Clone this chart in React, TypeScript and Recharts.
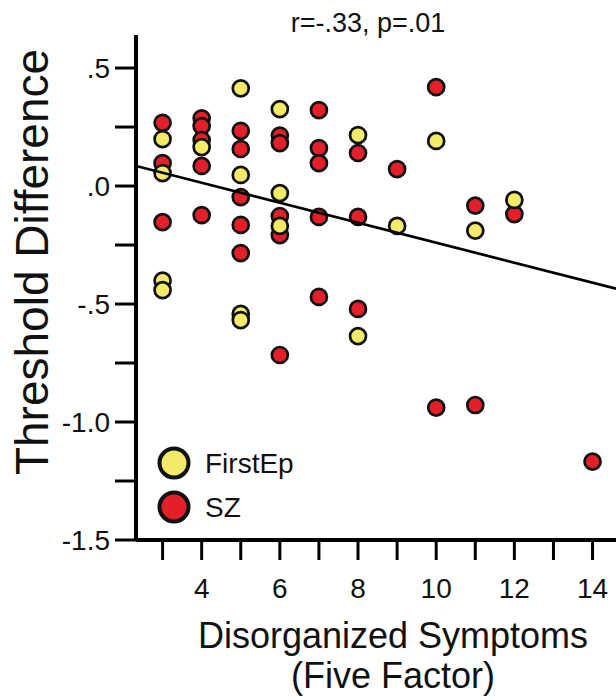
import React from 'react';
import { ScatterChart, Scatter, XAxis, YAxis } from 'recharts';

// Disorganized symptom score (Five Factor) per patient, with threshold difference
const firstEpSymptoms = [3, 3, 3, 3, 4, 5, 5, 5, 5, 6, 6, 6, 8, 8, 9, 10, 11, 12];
const firstEpThreshold = [0.199, 0.055, -0.401, -0.441, 0.165, 0.414, 0.047, -0.542, -0.568, 0.326, -0.03, -0.169, 0.216, -0.636, -0.169, 0.191, -0.189, -0.059];

const szSymptoms = [3, 3, 3, 4, 4, 4, 4, 4, 5, 5, 5, 5, 5, 6, 6, 6, 6, 6, 7, 7, 7, 7, 7, 8, 8, 8, 9, 10, 10, 11, 11, 12, 14];
const szThreshold = [0.268, 0.097, -0.153, 0.287, 0.254, 0.195, 0.085, -0.123, 0.234, 0.157, -0.047, -0.165, -0.284, 0.214, 0.182, -0.127, -0.208, -0.716, 0.322, 0.161, 0.097, -0.131, -0.47, 0.14, -0.131, -0.521, 0.072, 0.419, -0.939, -0.083, -0.928, -0.119, -1.168];

// Least-squares fit endpoints across the plotted range
const fitSymptoms = [2.32, 14.6];
const fitThreshold = [0.085, -0.435];

const xTicks = [3, 4, 5, 6, 7, 8, 9, 10, 11, 12, 13, 14];
const xTickLabels: Record<number, string> = { 4: '4', 6: '6', 8: '8', 10: '10', 12: '12', 14: '14' };
const yTicks = [-1.5, -1.25, -1, -0.75, -0.5, -0.25, 0, 0.25, 0.5];
const yTickLabels: Record<string, string> = { '0.5': '.5', '0': '.0', '-0.5': '-.5', '-1': '-1.0', '-1.5': '-1.5' };

const statText = 'r=-.33, p=.01';
const xTitle = ['Disorganized Symptoms', '(Five Factor)'];
const yTitle = 'Threshold Difference';
const seriesNames = ['FirstEp', 'SZ'];

const YELLOW = '#f3ea6a';
const RED = '#e3202a';
const INK = '#111111';
const FONT = '"Liberation Sans", Arial, Helvetica, sans-serif';

const zip = (xs: number[], ys: number[]) => xs.map((x, i) => ({ x, y: ys[i] }));
const firstEpData = zip(firstEpSymptoms, firstEpThreshold);
const szData = zip(szSymptoms, szThreshold);
const fitData = zip(fitSymptoms, fitThreshold);

const dot = (fill: string) => (props: any) => (
  <circle cx={props.cx} cy={props.cy} r={8} fill={fill} stroke={INK} strokeWidth={2.7} />
);

const YTick = (props: any) => {
  const label = yTickLabels[String(props.payload.value)];
  if (!label) return null;
  return (
    <text x={props.x + 1} y={props.y + 10} textAnchor="end" fontSize={28} fontFamily={FONT} fill={INK}>
      {label}
    </text>
  );
};

const XTick = (props: any) => {
  const label = xTickLabels[props.payload.value];
  if (!label) return null;
  return (
    <text x={props.x} y={598} textAnchor="middle" fontSize={28} fontFamily={FONT} fill={INK}>
      {label}
    </text>
  );
};

export default function App() {
  return (
    <div style={{ position: 'absolute', left: 0, top: 0, width: 616, height: 700, background: '#fff' }}>
      <ScatterChart width={616} height={700} margin={{ top: 35, right: 0, bottom: 0, left: 0 }}>
        <XAxis
          type="number"
          dataKey="x"
          domain={[2.32, 14.6]}
          ticks={xTicks}
          allowDataOverflow
          height={160}
          axisLine={{ stroke: '#000', strokeWidth: 4 }}
          tickLine={{ stroke: '#000', strokeWidth: 3 }}
          tickSize={20}
          tick={<XTick />}
          interval={0}
        />
        <YAxis
          type="number"
          dataKey="y"
          domain={[-1.5, 0.64]}
          ticks={yTicks}
          allowDataOverflow
          width={136}
          axisLine={{ stroke: '#000', strokeWidth: 4 }}
          tickLine={{ stroke: '#000', strokeWidth: 3 }}
          tickSize={21}
          tickMargin={6}
          tick={<YTick />}
          interval={0}
        />
        <Scatter data={szData} shape={dot(RED)} isAnimationActive={false} />
        <Scatter data={firstEpData} shape={dot(YELLOW)} isAnimationActive={false} />
        <Scatter
          data={fitData}
          line={{ stroke: '#000', strokeWidth: 2.7 }}
          shape={() => <g />}
          isAnimationActive={false}
        />
      </ScatterChart>
      <svg
        width={616}
        height={700}
        style={{ position: 'absolute', left: 0, top: 0, pointerEvents: 'none' }}
        fontFamily={FONT}
      >
        <text x={368} y={32} textAnchor="middle" fontSize={27} fill={INK}>{statText}</text>
        <text transform="translate(48,262) rotate(-90)" textAnchor="middle" fontSize={46} fill={INK}>{yTitle}</text>
        <text x={393} y={648} textAnchor="middle" fontSize={36} fill={INK}>{xTitle[0]}</text>
        <text x={393} y={688} textAnchor="middle" fontSize={36} fill={INK}>{xTitle[1]}</text>
        <circle cx={174} cy={463} r={14.5} fill={YELLOW} stroke={INK} strokeWidth={4} />
        <text x={205} y={473} fontSize={28} fill={INK}>{seriesNames[0]}</text>
        <circle cx={174} cy={507} r={14.5} fill={RED} stroke={INK} strokeWidth={4} />
        <text x={205} y={517} fontSize={28} fill={INK}>{seriesNames[1]}</text>
      </svg>
    </div>
  );
}
